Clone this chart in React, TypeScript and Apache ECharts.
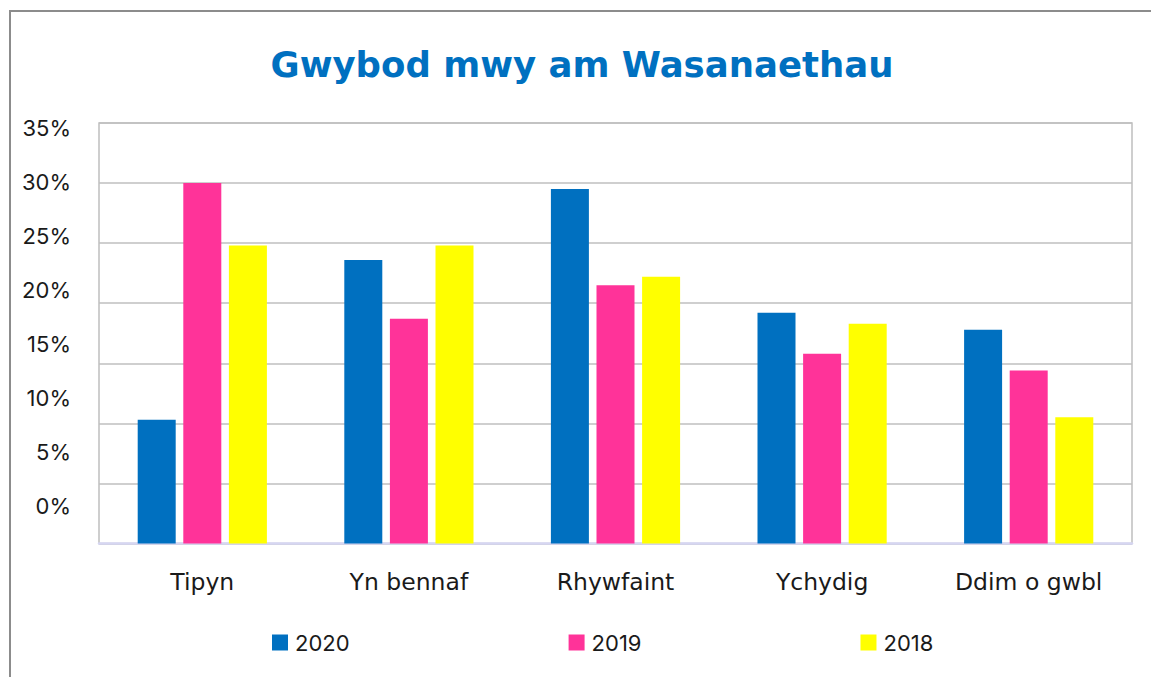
import React, { useEffect, useRef } from "react";
import * as echarts from "echarts";

const categories = ["Tipyn", "Yn bennaf", "Rhywfaint", "Ychydig", "Ddim o gwbl"];
const seriesNames = ["2020", "2019", "2018"];
const values2020 = [10.3, 23.6, 29.5, 19.2, 17.8];
const values2019 = [30.0, 18.7, 21.5, 15.8, 14.4];
const values2018 = [24.8, 24.8, 22.2, 18.3, 10.5];
const colors = ["#0070C0", "#FF3399", "#FFFF00"];
const yMin = 0;
const yMax = 35;
const yStep = 5;

const FONT = "Inter, 'Open Sans', sans-serif";
const WIDE = "'DejaVu Sans', sans-serif";

export default function App() {
  const ref = useRef<HTMLDivElement>(null);
  useEffect(() => {
    if (!ref.current) return;
    const chart = echarts.init(ref.current, null, { renderer: "svg" });
    const data = [values2020, values2019, values2018];
    chart.setOption({
      animation: false,
      backgroundColor: "#ffffff",
      title: {
        text: "Gwybod mwy am Wasanaethau",
        left: 577,
        textAlign: "center",
        top: 41,
        textStyle: {
          fontFamily: WIDE,
          fontSize: 35.5,
          fontWeight: "bold",
          color: "#0070C0",
        },
      },
      graphic: [
        {
          type: "rect",
          shape: { x: 10, y: 11, width: 1200, height: 720 },
          style: { fill: "none", stroke: "#8C8C8C", lineWidth: 2 },
          silent: true,
          z: 0,
        },
      ],
      legend: {
        data: seriesNames,
        left: 267,
        top: 626.5,
        itemWidth: 16,
        itemHeight: 16,
        itemGap: 219,
        icon: "rect",
        textStyle: {
          fontFamily: FONT,
          fontSize: 22,
          color: "#1a1a1a",
          padding: [0, 0, 0, 2],
        },
      },
      grid: [
        {
          left: 99,
          right: 19,
          top: 123,
          bottom: 133.5,
          show: true,
          borderColor: "#BFBFBF",
          borderWidth: 1.5,
          containLabel: false,
        },
        {
          left: 99,
          right: 19,
          top: 127.8,
          bottom: 171.2,
          containLabel: false,
        },
      ],
      xAxis: [
        {
          type: "category",
          gridIndex: 0,
          data: categories,
          axisLine: { show: true, lineStyle: { color: "#D6D6F2", width: 2.5 } },
          axisTick: { show: false },
          axisLabel: {
            margin: 26,
            fontFamily: WIDE,
            fontSize: 23.5,
            color: "#1a1a1a",
          },
        },
        {
          type: "value",
          gridIndex: 1,
          show: false,
        },
      ],
      yAxis: [
        {
          type: "value",
          gridIndex: 0,
          min: yMin,
          max: yMax,
          interval: yStep,
          axisLine: { show: false },
          axisTick: { show: false },
          axisLabel: { show: false },
          splitLine: { lineStyle: { color: "#BFBFBF", width: 1.5 } },
        },
        {
          type: "value",
          gridIndex: 1,
          min: yMin,
          max: yMax,
          interval: yStep,
          axisLine: { show: false },
          axisTick: { show: false },
          splitLine: { show: false },
          axisLabel: {
            margin: 28,
            fontFamily: FONT,
            fontSize: 22,
            color: "#1a1a1a",
            formatter: (v: number) => `${v}%`,
          },
        },
      ],
      series: seriesNames.map((name, i) => ({
        name,
        type: "bar",
        xAxisIndex: 0,
        yAxisIndex: 0,
        data: data[i],
        barWidth: 38,
        barGap: "20%",
        itemStyle: { color: colors[i] },
      })),
    });
    return () => chart.dispose();
  }, []);
  return (
    <div
      ref={ref}
      style={{ position: "fixed", left: 0, top: 0, width: 1151, height: 677 }}
    />
  );
}
